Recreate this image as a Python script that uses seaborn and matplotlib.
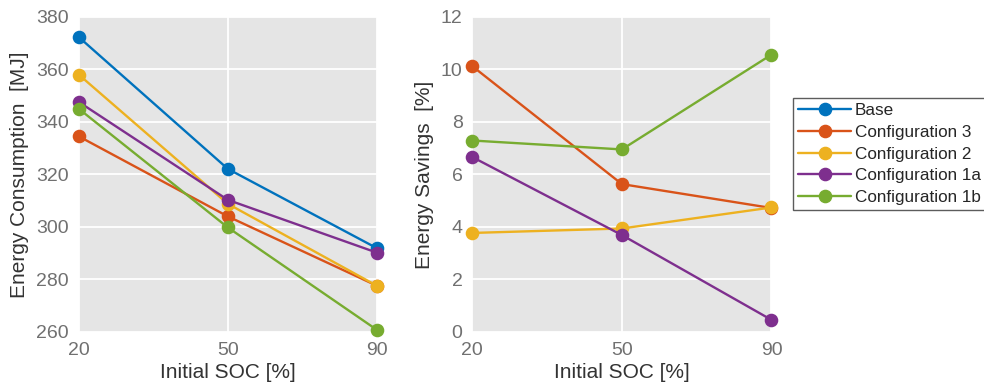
import numpy as np
import pandas as pd
import seaborn as sns
import matplotlib.pyplot as plt

# data
soc = ['20', '50', '90']
configs = ['Base', 'Configuration 3', 'Configuration 2', 'Configuration 1a', 'Configuration 1b']
colors = ['#0072BD', '#D95319', '#EDB120', '#7E2F8E', '#77AC30']

energy_base = [372.3, 322.1, 291.9]
energy_c3 = [334.5, 304.0, 277.6]
energy_c2 = [358.0, 308.8, 277.6]
energy_c1a = [347.6, 310.3, 290.2]
energy_c1b = [345.0, 299.8, 260.8]

savings_c3 = [10.12, 5.63, 4.72]
savings_c2 = [3.77, 3.94, 4.74]
savings_c1a = [6.66, 3.69, 0.46]
savings_c1b = [7.29, 6.95, 10.56]

def longdf(series, names):
    rows = []
    for name, vals in zip(names, series):
        for s, v in zip(soc, vals):
            rows.append({'soc': s, 'val': v, 'config': name})
    return pd.DataFrame(rows)

df_e = longdf([energy_base, energy_c3, energy_c2, energy_c1a, energy_c1b], configs)
df_s = longdf([savings_c3, savings_c2, savings_c1a, savings_c1b], configs[1:])

sns.set_theme(style='darkgrid', rc={'axes.facecolor': '#E5E5E5', 'grid.color': 'white',
                                    'grid.linewidth': 1.3})
plt.rcParams['font.family'] = ['Liberation Sans', 'DejaVu Sans']

fig = plt.figure(figsize=(9.84, 3.91), dpi=100)
ax1 = fig.add_axes([0.080, 0.151, 0.303, 0.806])
ax2 = fig.add_axes([0.480, 0.151, 0.304, 0.806])

pal = dict(zip(configs, colors))
sns.pointplot(data=df_e, x='soc', y='val', hue='config', order=soc, hue_order=configs,
              palette=pal, markers='o', markersize=8.5, linewidth=1.7, ax=ax1, legend=False)
sns.pointplot(data=df_s, x='soc', y='val', hue='config', order=soc, hue_order=configs[1:],
              palette=pal, markers='o', markersize=8.5, linewidth=1.7, ax=ax2, legend=False)

for ax in (ax1, ax2):
    ax.set_xlim(0, 2)
    ax.set_xlabel('Initial SOC [%]', fontsize=15, color='#333333', labelpad=3)
    ax.tick_params(axis='both', labelsize=14, labelcolor='#707070', length=0, pad=7)
    ax.grid(True, axis='both')
    for sp in ax.spines.values():
        sp.set_visible(False)
    for art in ax.lines + ax.collections:
        art.set_clip_on(False)

ax1.set_ylim(260, 380)
ax1.set_yticks(np.arange(260, 381, 20))
ax1.set_ylabel('Energy Consumption  [MJ]', fontsize=15, color='#333333', labelpad=5)
ax2.set_ylim(0, 12)
ax2.set_yticks(np.arange(0, 13, 2))
ax2.set_ylabel('Energy Savings  [%]', fontsize=15, color='#333333', labelpad=5)

handles = [plt.Line2D([], [], color=c, marker='o', markersize=8.8, linewidth=1.7) for c in colors]
leg = fig.legend(handles, configs, loc='upper left', bbox_to_anchor=(0.806, 0.750),
                 borderaxespad=0, fontsize=12.3, frameon=True, fancybox=False,
                 handlelength=3.1, handletextpad=0.2, borderpad=0.3, labelspacing=0.4)
leg.get_frame().set_edgecolor('#333333')
leg.get_frame().set_facecolor('white')
leg.get_frame().set_linewidth(1.0)

fig.savefig('out.png', dpi=100)
